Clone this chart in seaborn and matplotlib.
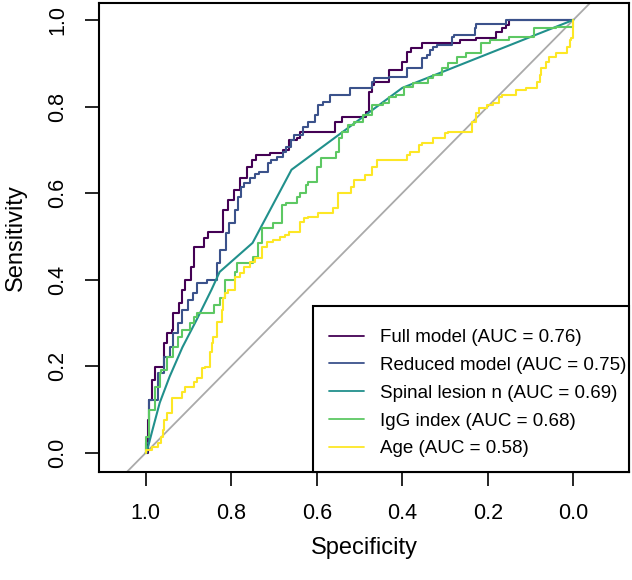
import matplotlib
matplotlib.use("Agg")
import matplotlib.pyplot as plt
import matplotlib.patches as mpatches
import seaborn as sns

# ROC curves (specificity, sensitivity)
full_spec = [1.000, 0.995, 0.991, 0.984, 0.979, 0.972, 0.956, 0.951, 0.939, 0.937,
             0.921, 0.914, 0.909, 0.893, 0.886, 0.864, 0.855, 0.832, 0.818, 0.808,
             0.794, 0.780, 0.764, 0.752, 0.741, 0.710, 0.680, 0.664, 0.647, 0.640,
             0.610, 0.558, 0.540, 0.535, 0.484, 0.477, 0.470, 0.465, 0.430, 0.400,
             0.388, 0.379, 0.355, 0.353, 0.266, 0.227, 0.180, 0.166, 0.157, 0.150,
             0.084, 0.000]
full_sens = [0.000, 0.000, 0.076, 0.122, 0.168, 0.199, 0.199, 0.254, 0.277, 0.284,
             0.323, 0.347, 0.377, 0.399, 0.429, 0.476, 0.496, 0.510, 0.510, 0.561,
             0.584, 0.607, 0.635, 0.660, 0.676, 0.688, 0.692, 0.700, 0.723, 0.728,
             0.741, 0.741, 0.764, 0.776, 0.776, 0.788, 0.834, 0.850, 0.856, 0.885,
             0.903, 0.926, 0.935, 0.946, 0.946, 0.953, 0.959, 0.973, 0.982, 0.989,
             1.000, 1.000]

reduced_spec = [1.000, 0.991, 0.972, 0.956, 0.944, 0.937, 0.925, 0.914, 0.902, 0.890,
                0.879, 0.857, 0.834, 0.827, 0.811, 0.804, 0.792, 0.785, 0.776, 0.769,
                0.757, 0.745, 0.734, 0.715, 0.706, 0.694, 0.680, 0.671, 0.659, 0.652,
                0.633, 0.621, 0.605, 0.598, 0.586, 0.570, 0.523, 0.470, 0.465, 0.430,
                0.390, 0.355, 0.343, 0.336, 0.329, 0.320, 0.283, 0.278, 0.231, 0.227,
                0.157, 0.084, 0.000]
reduced_sens = [0.000, 0.023, 0.122, 0.185, 0.222, 0.244, 0.277, 0.300, 0.330, 0.354,
                0.370, 0.393, 0.399, 0.439, 0.469, 0.508, 0.532, 0.561, 0.591, 0.615,
                0.624, 0.635, 0.644, 0.649, 0.670, 0.676, 0.683, 0.696, 0.707, 0.723,
                0.734, 0.753, 0.764, 0.781, 0.804, 0.811, 0.827, 0.843, 0.856, 0.866,
                0.868, 0.889, 0.912, 0.919, 0.931, 0.937, 0.942, 0.961, 0.966, 0.982,
                0.991, 1.000, 1.000]

spinal_spec = [1.000, 0.998, 0.984, 0.967, 0.944, 0.914, 0.881, 0.846, 0.827, 0.750,
               0.659, 0.400, 0.000]
spinal_sens = [0.000, 0.000, 0.053, 0.116, 0.176, 0.244, 0.307, 0.377, 0.418, 0.485,
               0.654, 0.843, 1.000]

igg_spec = [1.000, 0.998, 0.991, 0.979, 0.967, 0.963, 0.951, 0.937, 0.925, 0.914,
            0.897, 0.886, 0.879, 0.839, 0.827, 0.815, 0.792, 0.787, 0.750, 0.738,
            0.727, 0.703, 0.682, 0.671, 0.647, 0.640, 0.624, 0.621, 0.600, 0.589,
            0.586, 0.554, 0.547, 0.540, 0.528, 0.512, 0.493, 0.470, 0.446, 0.430,
            0.414, 0.395, 0.376, 0.341, 0.329, 0.306, 0.294, 0.273, 0.250, 0.215,
            0.196, 0.150, 0.091, 0.040, 0.000, 0.000]
igg_sens = [0.000, 0.007, 0.037, 0.100, 0.152, 0.185, 0.192, 0.222, 0.244, 0.268,
            0.284, 0.300, 0.314, 0.323, 0.341, 0.358, 0.399, 0.418, 0.439, 0.453,
            0.485, 0.519, 0.532, 0.573, 0.577, 0.591, 0.600, 0.619, 0.626, 0.660,
            0.681, 0.681, 0.696, 0.728, 0.741, 0.757, 0.764, 0.781, 0.804, 0.809,
            0.822, 0.827, 0.845, 0.854, 0.866, 0.872, 0.889, 0.901, 0.915, 0.924,
            0.946, 0.953, 0.961, 0.982, 0.984, 1.000]

age_spec = [1.000, 0.998, 0.984, 0.972, 0.963, 0.960, 0.956, 0.949, 0.939, 0.937,
            0.914, 0.909, 0.904, 0.886, 0.879, 0.869, 0.862, 0.850, 0.846, 0.843,
            0.834, 0.832, 0.822, 0.820, 0.815, 0.808, 0.792, 0.792, 0.780, 0.769,
            0.757, 0.745, 0.729, 0.717, 0.703, 0.687, 0.675, 0.664, 0.640, 0.629,
            0.621, 0.598, 0.563, 0.551, 0.542, 0.519, 0.512, 0.488, 0.470, 0.458,
            0.449, 0.388, 0.383, 0.360, 0.353, 0.329, 0.320, 0.301, 0.294, 0.238,
            0.227, 0.220, 0.203, 0.189, 0.173, 0.168, 0.133, 0.110, 0.084, 0.079,
            0.075, 0.063, 0.056, 0.040, 0.014, 0.009, 0.005, 0.000, 0.000]
age_sens = [0.000, 0.000, 0.007, 0.014, 0.023, 0.037, 0.053, 0.076, 0.093, 0.127,
            0.127, 0.141, 0.152, 0.152, 0.164, 0.174, 0.196, 0.199, 0.233, 0.254,
            0.268, 0.289, 0.303, 0.330, 0.358, 0.370, 0.377, 0.395, 0.406, 0.415,
            0.429, 0.441, 0.451, 0.476, 0.487, 0.492, 0.499, 0.503, 0.510, 0.534,
            0.543, 0.545, 0.554, 0.566, 0.600, 0.600, 0.615, 0.631, 0.642, 0.660,
            0.676, 0.676, 0.688, 0.696, 0.712, 0.716, 0.728, 0.728, 0.739, 0.741,
            0.764, 0.786, 0.797, 0.804, 0.809, 0.822, 0.827, 0.838, 0.843, 0.856,
            0.872, 0.889, 0.903, 0.915, 0.924, 0.937, 0.953, 0.959, 1.000]

curve_labels = [
    "Full model (AUC = 0.76)",
    "Reduced model (AUC = 0.75)",
    "Spinal lesion n (AUC = 0.69)",
    "IgG index (AUC = 0.68)",
    "Age (AUC = 0.58)",
]
curve_colors = ["#440154", "#3B528B", "#21908C", "#5DC863", "#FDE725"]
tick_vals = [1.0, 0.8, 0.6, 0.4, 0.2, 0.0]

W, H = 632, 580


def main():
    sns.set_style("white")
    plt.rcParams["font.family"] = ["Liberation Sans", "DejaVu Sans"]
    plt.rcParams["text.color"] = "black"
    plt.rcParams["axes.labelcolor"] = "black"
    plt.rcParams["xtick.color"] = "black"
    plt.rcParams["ytick.color"] = "black"

    fig, ax = plt.subplots(figsize=(W / 100, H / 100), dpi=100)
    fig.subplots_adjust(left=99 / W, right=629 / W,
                        bottom=1 - 472 / H, top=1 - 3 / H)

    ax.axline((1, 0), (0, 1), color="#AAAAAA", lw=1.3, zorder=1)

    curves = [
        (full_spec, full_sens, "steps-pre"),
        (reduced_spec, reduced_sens, "steps-pre"),
        (spinal_spec, spinal_sens, "default"),
        (igg_spec, igg_sens, "steps-pre"),
        (age_spec, age_sens, "steps-pre"),
    ]
    for (spec, sens, ds), lab, col in zip(curves, curve_labels, curve_colors):
        sns.lineplot(x=spec, y=sens, sort=False, estimator=None, color=col,
                     lw=1.5, drawstyle=ds, label=lab, ax=ax, zorder=2)

    ax.set_xlim(1.109, -0.130)
    ax.set_ylim(-0.044, 1.039)
    ax.set_xticks(tick_vals)
    ax.set_xticklabels([f"{v:.1f}" for v in tick_vals])
    ax.set_yticks(tick_vals)
    ax.set_yticklabels([f"{v:.1f}" for v in tick_vals], rotation=90, va="center")
    ax.tick_params(direction="out", length=10, width=1.2, color="black",
                   labelsize=15.5, pad=12, left=True, bottom=True)

    for sp in ax.spines.values():
        sp.set_visible(True)
        sp.set_color("black")
        sp.set_linewidth(1.5)

    ax.set_xlabel("Specificity", fontsize=17, labelpad=10)
    ax.set_ylabel("Sensitivity", fontsize=17, labelpad=15)

    # R-style legend box: text runs right up to the border
    box = mpatches.Rectangle((313 / W, 1 - 472 / H), (629 - 313) / W,
                             (472 - 306) / H, transform=fig.transFigure,
                             facecolor="white", edgecolor="black", lw=1.5,
                             zorder=4)
    ax.add_patch(box)
    box.set_clip_on(False)

    leg = ax.legend(loc="upper left", bbox_to_anchor=(329 / W, 1 - 329 / H),
                    bbox_transform=fig.transFigure, borderaxespad=0,
                    borderpad=0, fontsize=13.5, frameon=False,
                    handlelength=1.85, handletextpad=0.85, labelspacing=0.57)
    leg.set_zorder(5)
    for line in leg.get_lines():
        line.set_linewidth(1.3)

    fig.savefig("out.png", dpi=100)


if __name__ == "__main__":
    main()
